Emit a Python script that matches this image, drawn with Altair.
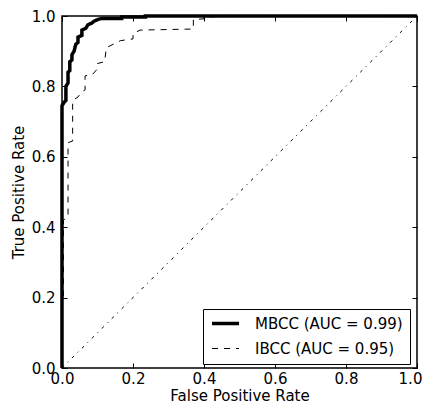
import altair as alt
import pandas as pd

mbcc_fpr = [0.0, 0.0, 0.006, 0.011, 0.011, 0.017, 0.017, 0.022, 0.022, 0.028, 0.028, 0.034, 0.039,
            0.045, 0.045, 0.056, 0.056, 0.067, 0.073, 0.084, 0.090, 0.101, 0.112, 0.168, 0.168, 0.235,
            0.235, 1.0]
mbcc_tpr = [0.0, 0.745, 0.755, 0.76, 0.80, 0.81, 0.84, 0.845, 0.87, 0.875, 0.89, 0.90, 0.92,
            0.925, 0.94, 0.945, 0.96, 0.965, 0.975, 0.98, 0.985, 0.99, 0.993, 0.993, 0.997, 0.997,
            1.0, 1.0]

ibcc_fpr = [0.0, 0.0, 0.004, 0.004, 0.017, 0.017, 0.030, 0.030, 0.045, 0.056, 0.065, 0.065, 0.085,
            0.100, 0.100, 0.120, 0.125, 0.135, 0.165, 0.200, 0.200, 0.220, 0.370, 0.370, 0.400,
            0.400, 0.500, 1.0]
ibcc_tpr = [0.0, 0.19, 0.20, 0.42, 0.43, 0.64, 0.645, 0.76, 0.77, 0.785, 0.79, 0.83, 0.833,
            0.85, 0.865, 0.87, 0.91, 0.915, 0.93, 0.935, 0.95, 0.96, 0.963, 0.99, 0.992,
            0.997, 1.0, 1.0]

series_names = ["MBCC (AUC = 0.99)", "IBCC (AUC = 0.95)"]
diag_x = [0.0, 1.0]
diag_y = [0.0, 1.0]
ticks = [0.0, 0.2, 0.4, 0.6, 0.8, 1.0]

rows = []
for name, xs, ys in [(series_names[0], mbcc_fpr, mbcc_tpr), (series_names[1], ibcc_fpr, ibcc_tpr)]:
    for i, (a, b) in enumerate(zip(xs, ys)):
        rows.append({"series": name, "fpr": a, "tpr": b, "idx": i})
df = pd.DataFrame(rows)
diag = pd.DataFrame({"fpr": diag_x, "tpr": diag_y})

xscale = alt.Scale(domain=[0, 1], nice=False)
yscale = alt.Scale(domain=[0, 1], nice=False)

lines = alt.Chart(df).mark_line(color="black").encode(
    x=alt.X("fpr:Q", scale=xscale, title="False Positive Rate",
            axis=alt.Axis(orient="bottom", values=ticks, format=".1f", labelPadding=3, titlePadding=2,
                          labelOffset={"condition": {"test": "datum.value == 1", "value": -7}, "value": 0})),
    y=alt.Y("tpr:Q", scale=yscale, title="True Positive Rate",
            axis=alt.Axis(orient="left", values=ticks, format=".1f", labelPadding=7, titlePadding=5)),
    strokeDash=alt.StrokeDash("series:N", title=None,
                              scale=alt.Scale(domain=series_names, range=[[1, 0], [6, 6]])),
    strokeWidth=alt.StrokeWidth("series:N", title=None,
                                scale=alt.Scale(domain=series_names, range=[3.5, 1])),
    order=alt.Order("idx:Q"),
    detail="series:N",
)

diagonal = alt.Chart(diag).mark_line(color="black", strokeWidth=1, strokeDash=[3, 5, 1, 5]).encode(
    x=alt.X("fpr:Q", scale=xscale, title=None,
            axis=alt.Axis(orient="top", values=ticks, labels=False)),
    y=alt.Y("tpr:Q", scale=yscale, title=None,
            axis=alt.Axis(orient="right", values=ticks, labels=False)),
)

chart = alt.layer(lines, diagonal).resolve_axis(x="independent", y="independent").properties(
    width=355, height=352,
    autosize=alt.AutoSizeParams(type="none"),
    padding={"left": 54, "top": 8, "right": 5, "bottom": 36},
).configure_view(
    stroke="black", strokeWidth=1.5
).configure_axis(
    labelFont="DejaVu Sans", titleFont="DejaVu Sans", labelFontSize=15, titleFontSize=15,
    labelColor="black", titleColor="black", titleFontWeight="normal",
    domain=False, grid=False, tickColor="black", tickSize=5, tickWidth=1, offset=-5,
    labelOverlap=False, labelFlush=False,
).configure_legend(
    orient="none", legendX=141, legendY=293, strokeColor="black", strokeWidth=1, padding=7,
    fillColor="white", labelFont="DejaVu Sans", labelFontSize=15, labelColor="black",
    symbolType="stroke", symbolStrokeColor="black", symbolSize=729, rowPadding=9, cornerRadius=0,
    labelOffset=14, clipHeight=15,
)

chart.save("out.html", embed_options={"renderer": "svg", "actions": False})
